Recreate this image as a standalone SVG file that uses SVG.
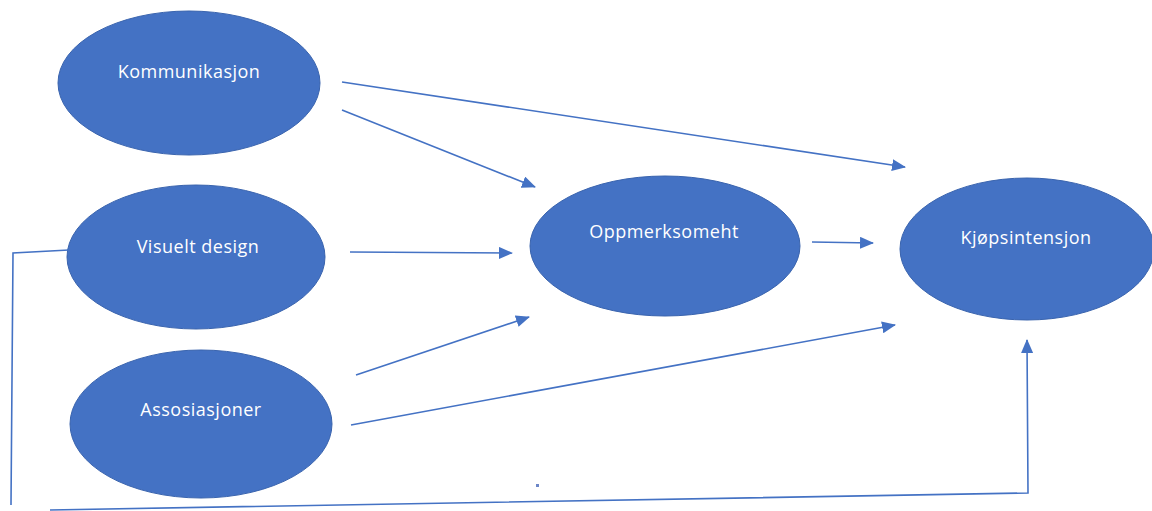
<svg xmlns="http://www.w3.org/2000/svg" width="1152" height="511" viewBox="0 0 1152 511">
<style>
.node{fill:#4472C4;stroke:#3A64AE;stroke-width:1}
.lbl{fill:#FFFFFF;font-family:"Open Sans","DejaVu Sans",sans-serif;font-size:18px;letter-spacing:0.5px;text-anchor:middle}
.con{stroke:#4472C4;stroke-width:1.6;fill:none}
</style>
<defs>
<marker id="ah" markerWidth="14" markerHeight="12" refX="13" refY="6" orient="auto" markerUnits="userSpaceOnUse">
<path d="M0,0 L14,6 L0,12 Z" fill="#4472C4"/>
</marker>
</defs>
<rect width="1152" height="511" fill="#FFFFFF"/>
<g id="n-kommunikasjon"><ellipse class="node" cx="189" cy="83" rx="131" ry="72"/><text class="lbl" x="189" y="78">Kommunikasjon</text></g>
<g id="n-visuelt"><ellipse class="node" cx="196" cy="257" rx="129" ry="72"/><text class="lbl" x="198" y="253">Visuelt design</text></g>
<g id="n-assosiasjoner"><ellipse class="node" cx="201" cy="424" rx="131" ry="74"/><text class="lbl" x="201" y="416">Assosiasjoner</text></g>
<g id="n-oppmerksomheht"><ellipse class="node" cx="665" cy="246" rx="135" ry="70"/><text class="lbl" x="664" y="238">Oppmerksomeht</text></g>
<g id="n-kjopsintensjon"><ellipse class="node" cx="1027" cy="249" rx="127" ry="71"/><text class="lbl" x="1026" y="244">Kjøpsintensjon</text></g>
<g id="connectors">
<line class="con" x1="342" y1="82" x2="905" y2="167" marker-end="url(#ah)"/>
<line class="con" x1="342" y1="110" x2="535" y2="187" marker-end="url(#ah)"/>
<line class="con" x1="350" y1="252" x2="512" y2="253" marker-end="url(#ah)"/>
<line class="con" x1="356" y1="375" x2="529" y2="317" marker-end="url(#ah)"/>
<line class="con" x1="812" y1="242" x2="873" y2="243" marker-end="url(#ah)"/>
<line class="con" x1="351" y1="425" x2="895" y2="325" marker-end="url(#ah)"/>
<polyline class="con" points="69,250 13,253 11,505"/>
<polyline class="con" points="50,510 1028,493 1027,340" marker-end="url(#ah)"/>
</g>
<rect x="536" y="484" width="3" height="3" fill="#6C86C8"/>
</svg>
